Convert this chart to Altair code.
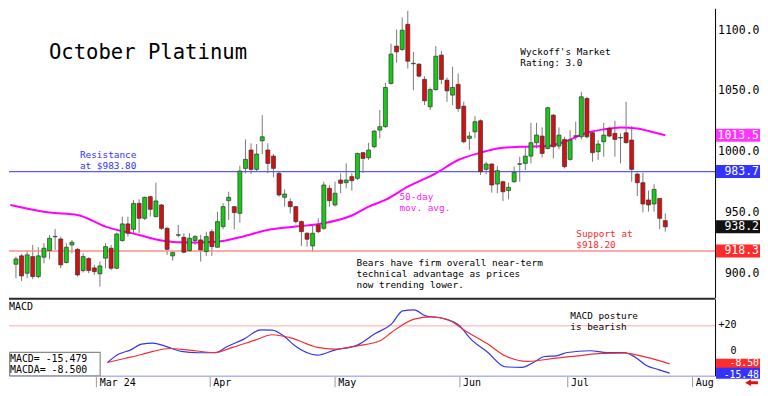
import altair as alt
import pandas as pd

# ---------------- data ----------------
day_index = list(range(-15, 102))  # trading-day index, 0 = first trading day of March
open_ = [907.4, 914.3, 900.0, 913.7, 897.3, 913.2, 918.6, 930.0, 928.2, 908.8, 923.3, 919.7, 902.2, 912.1, 904.4,
         899.5, 912.4, 920.6, 904.1, 926.9, 940.6, 936.2, 957.5, 945.2, 963.0, 946.6, 956.2, 937.0, 914.3, 931.3,
         929.6, 918.6, 926.9, 927.4, 917.8, 934.2, 921.4, 938.4, 959.7, 954.8, 949.3, 986.3, 1001.4, 985.5, 1009.0,
         1001.4, 996.4, 982.2, 962.5, 958.9, 954.8, 942.5, 932.9, 922.5, 939.7, 937.0, 969.9, 956.2, 976.7, 974.5,
         979.5, 978.1, 999.2, 995.1, 1004.1, 1017.8, 1020.6, 1056.2, 1086.9, 1084.1, 1104.9, 1072.4, 1072.1, 1059.5, 1037.0,
         1051.2, 1079.5, 1058.9, 1046.6, 1055.4, 1037.5, 1011.0, 1016.4, 1025.5, 985.5, 989.9, 973.4, 975.3, 968.0, 975.3,
         989.7, 990.4, 996.4, 1007.4, 1012.9, 1002.7, 1030.1, 1004.7, 1010.1, 993.7, 1012.7, 1012.3, 1043.8, 1015.6, 1000.0,
         1008.2, 1019.2, 1015.1, 1011.3, 1015.6, 1009.6, 981.6, 974.5, 960.3, 957.0, 961.6, 943.3]
high = [913.7, 915.9, 918.6, 923.3, 921.4, 924.7, 931.5, 936.4, 930.1, 924.7, 927.4, 920.6, 916.4, 913.2, 906.9,
        909.6, 924.7, 923.3, 933.4, 946.6, 946.6, 960.3, 960.8, 963.0, 963.6, 974.5, 957.0, 937.8, 917.8, 939.7,
        932.9, 932.9, 931.5, 931.5, 934.2, 936.2, 950.7, 957.5, 967.1, 955.3, 988.5, 1010.1, 1006.9, 1006.3, 1030.1,
        1006.9, 998.1, 983.6, 969.0, 961.6, 955.3, 943.3, 933.7, 939.7, 945.2, 975.3, 972.6, 975.3, 982.2, 990.4,
        982.2, 999.2, 1000.0, 1007.4, 1017.8, 1034.3, 1056.7, 1089.0, 1100.6, 1110.4, 1115.9, 1082.2, 1072.6, 1062.2, 1052.9,
        1086.9, 1083.0, 1061.1, 1069.9, 1064.4, 1041.1, 1016.4, 1029.3, 1026.6, 991.8, 990.4, 988.2, 976.2, 974.5, 987.7,
        995.9, 1004.1, 1023.8, 1023.8, 1020.0, 1037.0, 1031.0, 1020.0, 1012.3, 1017.8, 1024.7, 1049.3, 1045.2, 1016.4, 1009.6,
        1023.8, 1020.6, 1025.5, 1015.1, 1041.1, 1021.1, 982.7, 982.7, 968.0, 973.2, 961.6, 949.3]
low = [895.9, 893.7, 895.9, 895.1, 895.9, 908.2, 911.5, 919.2, 904.1, 908.2, 916.4, 897.3, 900.6, 900.0, 898.6,
       889.0, 904.1, 902.5, 903.5, 926.0, 930.1, 932.9, 932.9, 943.8, 946.6, 946.0, 935.6, 915.1, 910.4, 929.6,
       916.4, 917.8, 923.3, 909.6, 914.3, 914.3, 921.4, 936.2, 943.8, 936.2, 941.6, 982.2, 981.6, 983.6, 998.1,
       982.2, 978.9, 963.0, 954.8, 949.3, 941.1, 922.5, 921.9, 917.8, 932.9, 935.6, 954.8, 954.8, 965.8, 969.9,
       968.0, 976.7, 982.7, 993.2, 1002.7, 1011.0, 1019.7, 1055.3, 1073.2, 1083.0, 1068.5, 1050.7, 1061.1, 1038.4, 1034.3,
       1050.1, 1055.6, 1041.1, 1038.4, 1032.9, 1006.9, 1001.4, 1011.0, 980.8, 981.6, 966.3, 965.8, 959.5, 960.8, 974.5,
       975.3, 984.9, 990.4, 1002.7, 995.3, 1001.9, 994.5, 1001.9, 986.3, 992.6, 1009.6, 1010.1, 1011.0, 991.8, 993.2,
       995.9, 1011.8, 995.9, 990.4, 1006.9, 975.3, 963.6, 950.1, 950.7, 950.7, 936.2, 934.3]
close = [911.8, 897.8, 915.1, 897.3, 914.3, 920.6, 928.8, 930.3, 906.9, 921.4, 925.5, 898.6, 913.7, 902.2, 901.3,
         906.0, 921.9, 904.1, 932.3, 940.6, 932.9, 957.5, 945.2, 962.5, 952.6, 959.5, 937.0, 919.7, 917.0, 931.7,
         917.3, 928.8, 930.1, 919.2, 930.1, 921.9, 942.5, 954.8, 962.5, 949.9, 984.1, 993.7, 985.5, 998.1, 1012.3,
         990.4, 986.3, 964.4, 965.2, 954.8, 942.5, 934.2, 928.0, 932.9, 934.2, 972.6, 959.7, 965.8, 974.0, 976.7,
         976.2, 998.6, 994.5, 1001.4, 1017.0, 1020.6, 1052.9, 1080.3, 1082.2, 1100.0, 1074.5, 1072.8, 1062.2, 1041.9, 1051.2,
         1078.6, 1059.5, 1050.1, 1052.9, 1035.6, 1008.2, 1012.9, 1024.7, 983.6, 989.9, 972.6, 984.4, 967.1, 970.7, 983.0,
         990.1, 996.4, 1007.4, 1013.7, 998.6, 1036.2, 1004.1, 1013.7, 987.7, 1009.6, 1013.1, 1045.2, 1012.3, 999.2, 1006.3,
         1013.7, 1012.9, 1010.1, 1011.7, 1007.4, 985.5, 974.5, 957.0, 956.2, 969.0, 945.2, 938.2]

ma_index = [-16, -9, -4, 1, 7, 11, 15, 21, 25, 30, 35, 40, 45, 48, 51, 55, 60, 64, 68, 71, 75, 80, 83, 87, 90, 93, 96, 98, 101]
ma_value = [956.2, 950.0, 948.0, 938.4, 931.5, 926.9, 925.2, 926.0, 929.6, 935.6, 938.4, 941.1, 947.5, 954.8, 960.3,
            971.2, 982.2, 993.2, 999.2, 1002.7, 1004.1, 1004.7, 1008.2, 1015.6, 1018.4, 1020.0, 1019.2, 1017.0, 1013.5]

macd_index = [2, 4, 6, 8, 10, 12, 15, 18, 21, 23, 26, 29, 31, 33, 35, 39, 42, 46, 49, 52, 54, 56, 58, 61, 64, 66,
              69, 72, 75, 77, 79, 81, 83, 87, 90, 93, 95, 97, 99, 101]
macd_value = [-7.5, -1.2, 1.8, 6.3, 7.0, 5.0, 0.8, -0.2, -0.2, 4.3, 10.0, 17.0, 16.8, 12.5, 5.0, -2.0, 1.8, 5.5, 13.8,
              21.3, 31.2, 32.0, 27.5, 25.7, 20.0, 10.0, 0.0, -10.7, -11.2, -7.5, -3.0, -2.5, 0.0, 1.3, 0.0, 0.0, -3.7,
              -10.0, -12.8, -15.48]
signal_index = [2, 5, 8, 10, 13, 16, 21, 24, 28, 31, 34, 39, 42, 46, 50, 52, 56, 59, 62, 65, 69, 72, 76, 81, 85, 89, 93, 97, 101]
signal_value = [-7.5, -4.5, -1.5, 0.8, 3.0, 2.0, 0.0, 3.8, 9.3, 13.3, 11.3, 3.8, 2.5, 5.0, 8.8, 15.0, 25.0, 26.7, 24.5,
                16.3, 6.3, -2.5, -6.7, -4.2, -2.5, -0.7, -0.5, -3.7, -8.5]

month_index = [0, 20, 42, 64, 83, 105]
month_label = ["Mar 24", "Apr", "May", "Jun", "Jul", "Aug"]
price_ticks = [900, 950, 1000, 1050, 1100]
macd_ticks = [0, 20]

resistance = 983.7
support = 918.3
ma_last = 1013.5
last_close = 938.2
macd_last = -15.48
signal_last = -8.50

# ---------------- layout ----------------
MONO = "DejaVu Sans Mono"
NOTE = 9.4   # font size of the small annotations
LH = 11      # their line height
W = 707
H1 = 290
H2 = 77
X_DOM = [-15.35, 109.0]
P_DOM = [879.73, 1118.08]
M_DOM = [-17.45, 40.2]
p_per_px = (P_DOM[1] - P_DOM[0]) / H1
m_per_px = (M_DOM[1] - M_DOM[0]) / H2
TAG_L, TAG_R = 708, 752

xs = alt.Scale(domain=X_DOM, nice=False, zero=False)
ps = alt.Scale(domain=P_DOM, nice=False, zero=False)
ms = alt.Scale(domain=M_DOM, nice=False, zero=False)

price_axis = alt.Axis(
    orient="right", values=price_ticks, format=".1f", title=None, grid=False,
    ticks=False, tickSize=0, labelAlign="right", labelPadding=TAG_R - 1 - W, labelBaseline="middle",
    labelFont=MONO, labelFontSize=11.5, labelColor="black", domainColor="black", domainWidth=1,
    labelFlush=False, labelOverlap=False)

label_expr = "".join(f"datum.value == {v} ? '{l}' : " for v, l in zip(month_index, month_label)) + "''"
time_axis = alt.Axis(
    values=month_index, labelExpr=label_expr, title=None, grid=False, orient="bottom",
    tickSize=11, tickColor="#9a9a9a", tickWidth=1, labelAlign="left", labelBaseline="top",
    labelPadding=-9.5, labelOffset=3, labelFont=MONO, labelFontSize=10, labelColor="black",
    domainColor="#b4b4f0", domainWidth=1.5, labelFlush=False, labelOverlap=False, labelBound=False)

macd_axis = alt.Axis(
    orient="right", values=macd_ticks, title=None, grid=False, ticks=False, tickSize=0,
    labelExpr="datum.value > 0 ? '+' + datum.label : datum.label",
    labelAlign="right", labelPadding=21, labelBaseline="middle", labelOffset=-1.5, labelFont=MONO,
    labelFontSize=10, labelColor="black", domainColor="black", domainWidth=1, labelFlush=False,
    labelOverlap=False)

one = pd.DataFrame({"k": [0]})

candles = pd.DataFrame({"i": day_index, "o": open_, "h": high, "l": low, "c": close})
candles["dir"] = ["up" if c >= o else "down" for o, c in zip(open_, close)]


def txt(s, x, y, color="black", size=NOTE, lh=LH):
    return alt.Chart(one).mark_text(
        font=MONO, fontSize=size, color=color, align="left", baseline="alphabetic", lineHeight=lh
    ).encode(x=alt.value(x), y=alt.value(y), text=alt.value(s))


def tag(value, label, bg, scale, axis, units_per_px, half_px, size, dy=0.5):
    d = pd.DataFrame({"v": [value], "t": [value + half_px * units_per_px],
                      "b": [value - half_px * units_per_px], "lab": [label]})
    base = alt.Chart(d)
    r = base.mark_rect(color=bg).encode(
        x=alt.value(TAG_L), x2=alt.value(TAG_R),
        y=alt.Y("t:Q", scale=scale, axis=axis), y2="b:Q")
    t = base.mark_text(font=MONO, fontSize=size, color="white", align="right", baseline="middle", dy=dy).encode(
        x=alt.value(TAG_R - 1), y=alt.Y("v:Q", scale=scale, axis=axis), text="lab:N")
    return [r, t]


# ---------------- price panel ----------------
wick = alt.Chart(candles).mark_rule(color="#7a7a7a", strokeWidth=1).encode(
    x=alt.X("i:Q", scale=xs, axis=None),
    y=alt.Y("l:Q", scale=ps, axis=price_axis),
    y2="h:Q")

body = alt.Chart(candles).mark_bar(size=4, stroke="#333333", strokeWidth=0.7).encode(
    x=alt.X("i:Q", scale=xs, axis=None),
    y=alt.Y("o:Q", scale=ps, axis=price_axis), y2="c:Q",
    color=alt.Color("dir:N", scale=alt.Scale(domain=["up", "down"], range=["#14cc14", "#d41010"]), legend=None))

ma = alt.Chart(pd.DataFrame({"i": ma_index, "v": ma_value})).mark_line(
    color="#ff00ff", strokeWidth=2, interpolate="monotone", clip=True).encode(
    x=alt.X("i:Q", scale=xs, axis=None), y=alt.Y("v:Q", scale=ps, axis=price_axis))

res_line = alt.Chart(pd.DataFrame({"v": [resistance]})).mark_rule(color="#5a5aff", strokeWidth=1.2).encode(
    y=alt.Y("v:Q", scale=ps, axis=price_axis))
sup_line = alt.Chart(pd.DataFrame({"v": [support]})).mark_rule(color="#ff8c8c", strokeWidth=1.6).encode(
    y=alt.Y("v:Q", scale=ps, axis=price_axis))

price_tags = (tag(ma_last, "1013.5", "#ff33ff", ps, price_axis, p_per_px, 6.5, 11.5)
              + tag(resistance, "983.7", "#3333ff", ps, price_axis, p_per_px, 6.5, 11.5)
              + tag(last_close, "938.2", "#111111", ps, price_axis, p_per_px, 6.5, 11.5)
              + tag(support, "918.3", "#ff2a2a", ps, price_axis, p_per_px, 6.5, 11.5))

price_texts = [
    txt("October Platinum", 40, 51, size=20.6),
    txt(["Wyckoff's Market", "Rating: 3.0"], 512, 46.9),
    txt(["Resistance", "at $983.80"], 71, 149.8, color="#3333ff"),
    txt(["50-day", "mov. avg."], 391, 192.0, color="#ff22ff"),
    txt(["Support at", "$918.20"], 568, 228.8, color="#ff2a2a"),
    txt(["Bears have firm overall near-term", "technical advantage as prices", "now trending lower."],
        348, 258.0),
]

price = alt.layer(wick, res_line, sup_line, ma, body, *price_tags, *price_texts).properties(width=W, height=H1)

# ---------------- MACD panel ----------------
pink = alt.Chart(pd.DataFrame({"v": [20]})).mark_rule(color="#ffc6c6", strokeWidth=1.5).encode(
    x=alt.value(0), x2=alt.value(W),
    y=alt.Y("v:Q", scale=ms, axis=macd_axis))

macd_line = alt.Chart(pd.DataFrame({"i": macd_index, "v": macd_value})).mark_line(
    color="#3535ee", strokeWidth=1.2, interpolate="monotone").encode(
    x=alt.X("i:Q", scale=xs, axis=time_axis),
    y=alt.Y("v:Q", scale=ms, axis=macd_axis))

signal_line = alt.Chart(pd.DataFrame({"i": signal_index, "v": signal_value})).mark_line(
    color="#ee3030", strokeWidth=1.2, interpolate="monotone").encode(
    x=alt.X("i:Q", scale=xs, axis=time_axis),
    y=alt.Y("v:Q", scale=ms, axis=macd_axis))

top_border = alt.Chart(one).mark_rule(color="#2a2a2a", strokeWidth=2).encode(
    x=alt.value(0), x2=alt.value(W), y=alt.value(0))

macd_tags = (tag(signal_last, "-8.50", "#ff2a2a", ms, macd_axis, m_per_px, 5, 9.8, dy=-0.5)
             + tag(macd_last, "-15.48", "#3333ff", ms, macd_axis, m_per_px, 5.5, 9.8, dy=2.0))

info_box = alt.Chart(one).mark_rect(fill="white", stroke="#8a8a8a", strokeWidth=1.2).encode(
    x=alt.value(0.6), x2=alt.value(91.3), y=alt.value(53.5), y2=alt.value(H2))

arrow_head = alt.Chart(one).mark_point(shape="triangle-left", filled=True, size=45, color="#e01010", opacity=1).encode(
    x=alt.value(740), y=alt.value(H2 + 7))
arrow_tail = alt.Chart(one).mark_rule(color="#e01010", strokeWidth=3).encode(
    x=alt.value(742), x2=alt.value(750), y=alt.value(H2 + 7))

macd_texts = [
    txt("MACD", 0, 11, size=10),
    txt(["MACD posture", "is bearish"], 562, 20.0),
    txt(["MACD= -15.479", "MACDA= -8.500"], 1, 63.6, size=9.9),
]

macd = alt.layer(pink, macd_line, signal_line, top_border, *macd_tags, info_box,
                 *macd_texts, arrow_head, arrow_tail).properties(width=W, height=H2)

chart = alt.vconcat(price, macd, spacing=0).properties(padding=0).configure_view(stroke=None)

chart.save("out.html", embed_options={"renderer": "svg", "actions": False})
